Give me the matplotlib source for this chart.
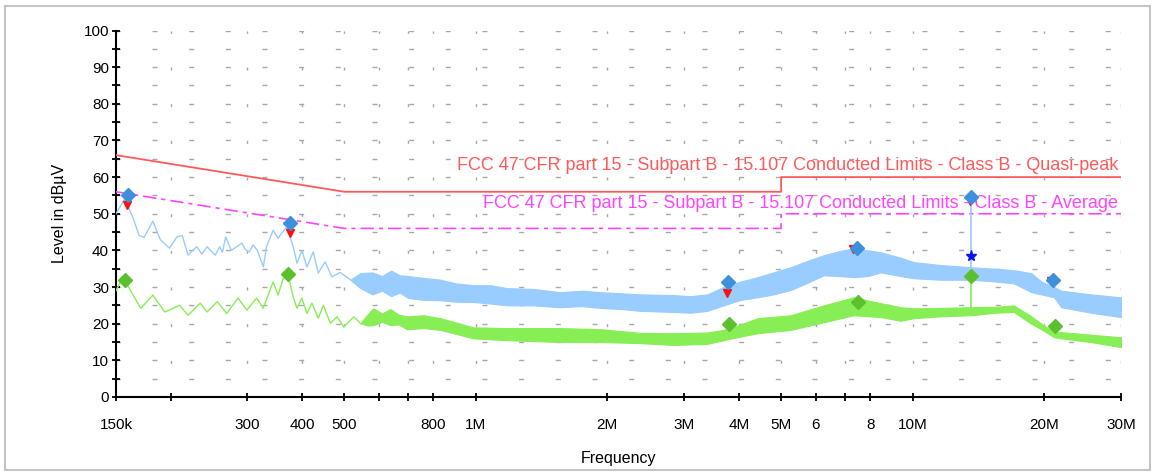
import matplotlib.pyplot as plt
from matplotlib.ticker import FixedLocator, MultipleLocator, NullFormatter, FixedFormatter
from matplotlib.patches import Rectangle

plt.rcParams['font.family'] = ['Liberation Sans', 'DejaVu Sans']

# peak trace, low frequency part (MHz, dBuV)
pk_freq = [0.150, 0.157, 0.164, 0.1696, 0.1741, 0.1822, 0.1894, 0.1989, 0.2069, 0.2128,
           0.2193, 0.2296, 0.236, 0.2425, 0.2532, 0.259, 0.263, 0.2675, 0.2755, 0.2913,
           0.297, 0.303, 0.309, 0.3161, 0.3262, 0.3317, 0.3435, 0.3527, 0.3595, 0.3689,
           0.382, 0.3896, 0.3998, 0.4105, 0.4245, 0.4358, 0.452, 0.468, 0.489, 0.516]
pk_level = [50, 54, 49, 44, 43.6, 48, 43, 40.6, 43.7, 44,
            38.7, 41, 39, 41, 38.7, 41, 39.5, 43.7, 40, 42,
            40.2, 39.6, 41.5, 40, 35.5, 41, 45.5, 43.3, 44.7, 46.4,
            41, 36.5, 40, 35.5, 39.6, 33.8, 36.9, 32.8, 34, 32]

# peak trace, dense part drawn as a band (MHz, upper, lower)
pk_band_freq = [0.516, 0.544, 0.58, 0.61, 0.64, 0.67, 0.70, 0.76, 0.83, 0.90,
                0.99, 1.08, 1.18, 1.35, 1.56, 1.75, 1.93, 2.15, 2.38, 2.84,
                3.1, 3.39, 3.69, 4.04, 4.42, 4.8, 5.26, 5.7, 6.26, 6.8,
                7.33, 7.9, 8.45, 9.39, 10.06, 11.6, 13.6, 15.5, 17.05, 18.7,
                19.7, 21.1, 21.9, 25.6, 30.0]
pk_band_hi = [32, 33.8, 34, 33, 34.5, 33.2, 33, 32.5, 32, 31,
              30.5, 30.5, 29.7, 29.5, 28.6, 29, 28.6, 28.3, 28, 27.8,
              27.5, 28, 30, 31.5, 32.7, 34, 35.4, 37, 38.7, 39.8,
              40.6, 40, 39.5, 38, 36.8, 36, 35.4, 35, 34.6, 33.8,
              31.5, 30, 29, 28, 27.2]
pk_band_lo = [32, 29.7, 28, 29, 27.5, 28.5, 27, 26.5, 26.4, 26,
              25.9, 25.5, 25, 25, 24.5, 24.8, 24.3, 24, 23.5, 23.2,
              23, 23.5, 25, 26.5, 27.2, 28, 29.2, 31, 33.2, 33,
              32.7, 33, 34, 33, 32.4, 32, 32, 31.5, 31, 28.6,
              28, 27.2, 24.5, 23, 21.8]

# average trace, low frequency part
av_freq = [0.150, 0.1557, 0.162, 0.171, 0.1822, 0.194, 0.210, 0.2193, 0.2339, 0.2425,
           0.256, 0.269, 0.2855, 0.299, 0.315, 0.326, 0.3435, 0.3527, 0.3622, 0.372,
           0.382, 0.3896, 0.3998, 0.4105, 0.4214, 0.4358, 0.4476, 0.4646, 0.4813, 0.4981,
           0.526, 0.544]
av_level = [29, 32.8, 29, 24.2, 27.8, 23.2, 25, 22.3, 25.6, 23.2,
            26, 22.8, 27, 23.7, 27, 24.2, 31.4, 27.8, 32.4, 33.2,
            27.3, 24.2, 27, 22.8, 25.6, 21.5, 25, 20.1, 21.9, 19.1,
            21.9, 20.1]

av_band_freq = [0.544, 0.565, 0.582, 0.61, 0.637, 0.665, 0.696, 0.76, 0.83, 0.987,
                1.18, 1.56, 1.93, 2.38, 2.84, 3.39, 3.69, 4.04, 4.42, 5.26,
                6.26, 7.33, 8.45, 9.39, 10.06, 11.6, 13.6, 15.5, 17.05, 18.7,
                19.7, 21.1, 21.9, 25.6, 30.0]
av_band_hi = [20.1, 22.5, 24.2, 22.8, 24, 22.5, 22, 22.3, 21.5, 19,
              18.8, 18.8, 18.5, 17.5, 17.4, 17.6, 18.3, 19.8, 21.5, 22.3,
              25, 27.2, 25.6, 24.5, 24.2, 24.3, 24.5, 24.6, 25, 22,
              20, 17.7, 17.7, 17, 16.3]
av_band_lo = [20.1, 19.5, 19.6, 20.5, 19.6, 19.8, 18.5, 18.8, 18.3, 16,
              15.5, 15, 15, 14.7, 14.2, 14.5, 15.5, 16.5, 17.4, 18.3,
              20.4, 22.3, 21.8, 20.8, 21.5, 22, 22.3, 23, 23.2, 20,
              18.5, 16.3, 16, 15, 13.6]

# final measurement markers
qp_freq = [0.160, 0.376, 3.77, 7.45, 13.6, 21.0]
qp_level = [55, 47.4, 31.4, 40.6, 54.6, 31.9]
qp_red_freq = [0.159, 0.375, 3.75, 7.3, 13.55, 20.7]
qp_red_level = [52.5, 44.8, 28.4, 40.5, 53.5, 31.6]
avg_freq = [0.1575, 0.372, 3.79, 7.5, 13.6, 21.2]
avg_level = [31.9, 33.5, 19.9, 26, 33, 19.4]
star_freq = [13.6]
star_level = [38.4]

# limit lines
qp_lim_freq = [0.15, 0.5, 5, 5, 30]
qp_lim = [66, 56, 56, 60, 60]
av_lim_freq = [0.15, 0.5, 5, 5, 30]
av_lim = [56, 46, 46, 50, 50]

xticks = [0.15, 0.2, 0.3, 0.4, 0.5, 0.6, 0.7, 0.8, 1, 2, 3, 4, 5, 6, 7, 8, 10, 20, 30]
xlabels = ['150k', '', '300', '400', '500', '', '', '800', '1M', '2M', '3M', '4M', '5M',
           '6', '', '8', '10M', '20M', '30M']

fig = plt.figure(figsize=(11.56, 4.73), dpi=100)
ax = fig.add_axes([0.1003, 0.1607, 0.8694, 0.7748])

fig.patches.append(Rectangle((5 / 1156, 3 / 473), 1145 / 1156, 464 / 473, transform=fig.transFigure,
                             fill=False, edgecolor='#c4c4c4', linewidth=1.5))

ax.set_xscale('log')
ax.set_xlim(0.15, 30)
ax.set_ylim(0, 100)

ax.xaxis.set_major_locator(FixedLocator(xticks))
ax.xaxis.set_major_formatter(FixedFormatter(xlabels))
ax.xaxis.set_minor_locator(FixedLocator([]))
ax.xaxis.set_minor_formatter(NullFormatter())
ax.yaxis.set_major_locator(MultipleLocator(10))
ax.yaxis.set_minor_locator(MultipleLocator(5))

for s in ['top', 'right']:
    ax.spines[s].set_visible(False)
for s in ['left', 'bottom']:
    ax.spines[s].set_linewidth(1.5)
ax.tick_params(which='both', direction='inout', width=1.3, length=6, labelsize=11)
ax.tick_params(axis='x', pad=12)
ax.tick_params(axis='y', pad=2)

ax.yaxis.grid(True, which='both', color='#a8a8a8', linewidth=1, linestyle=(0.5, (3.6, 22.8)))
ax.xaxis.grid(True, which='major', color='#a8a8a8', linewidth=1, linestyle=(2.2, (2.2, 24.2)))
ax.set_axisbelow(True)

ax.plot(qp_lim_freq, qp_lim, color='#ff5a5a', linewidth=1.3, zorder=3)
ax.plot(av_lim_freq, av_lim, color='#ff44ff', linewidth=1.2, linestyle=(0, (8, 3, 2.5, 3)), zorder=3)

ax.text(29.6, 63.2, 'FCC 47 CFR part 15 - Subpart B - 15.107 Conducted Limits - Class B - Quasi-peak',
        color='#ff5a5a', fontsize=13, ha='right', va='center', zorder=4)
ax.text(29.6, 52.9, 'FCC 47 CFR part 15 - Subpart B - 15.107 Conducted Limits - Class B - Average',
        color='#ff44ff', fontsize=13, ha='right', va='center', zorder=4)

ax.plot(pk_freq, pk_level, color='#99ccff', linewidth=1, zorder=5)
ax.fill_between(pk_band_freq, pk_band_lo, pk_band_hi, color='#99ccff', linewidth=0.8, zorder=5)
ax.plot(av_freq, av_level, color='#88ee55', linewidth=1, zorder=5)
ax.fill_between(av_band_freq, av_band_lo, av_band_hi, color='#88ee55', linewidth=0.8, zorder=5)

# spikes at 13.6 MHz
ax.plot([13.6, 13.6], [35, qp_level[4]], color='#99ccff', linewidth=1.2, zorder=5)
ax.plot([13.6, 13.6], [24.5, avg_level[4]], color='#88ee55', linewidth=1.2, zorder=5)

ax.plot(qp_red_freq, qp_red_level, linestyle='none', marker='v', markersize=6,
        color='#ff1010', zorder=6)
ax.plot(qp_freq, qp_level, linestyle='none', marker='D', markersize=7,
        color='#3d91dc', zorder=7)
ax.plot(avg_freq, avg_level, linestyle='none', marker='D', markersize=7,
        color='#5cbf2e', zorder=7)
ax.plot(star_freq, star_level, linestyle='none', marker='*', markersize=8,
        color='#0a14f0', zorder=7)

ax.set_xlabel('Frequency', fontsize=11.5, labelpad=14)
ax.set_ylabel('Level in dBµV', fontsize=11.5, labelpad=12)

fig.savefig('out.png', dpi=100)
